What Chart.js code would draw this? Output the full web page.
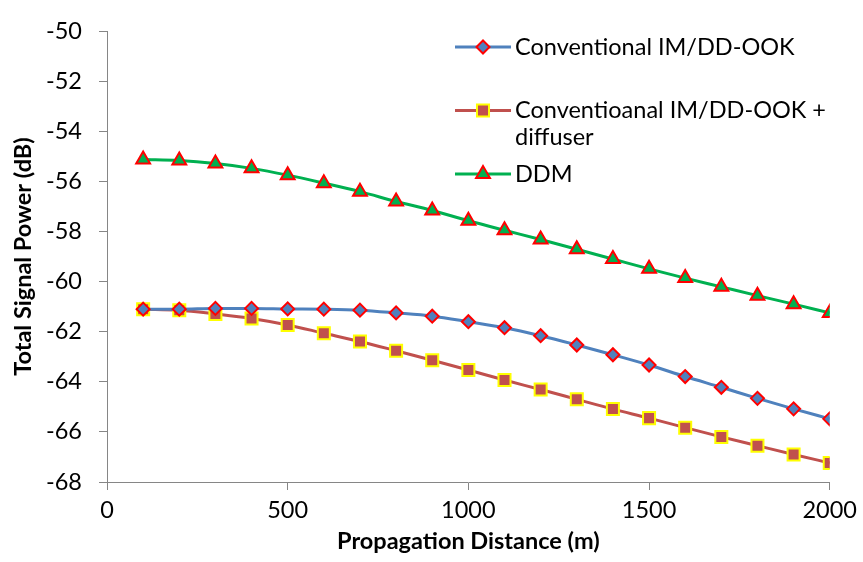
<!DOCTYPE html>
<html>
<head>
<meta charset="utf-8">
<title>Total Signal Power vs Propagation Distance</title>
<script src="https://cdn.jsdelivr.net/npm/chart.js@4.4.1/dist/chart.umd.min.js"></script>
<style>
  html, body { margin: 0; padding: 0; background: #ffffff; }
  #wrap { width: 863px; height: 562px; }
</style>
</head>
<body>
<div id="wrap"><canvas id="chart" width="863" height="562"></canvas></div>
<script>
// Propagation distance (m)
const distances = [100, 200, 300, 400, 500, 600, 700, 800, 900, 1000,
                   1100, 1200, 1300, 1400, 1500, 1600, 1700, 1800, 1900, 2000];

// Total signal power (dB) per scheme
const convOOK = [-61.10, -61.10, -61.07, -61.07, -61.09, -61.10, -61.14, -61.25, -61.38, -61.60,
                 -61.84, -62.16, -62.53, -62.92, -63.33, -63.79, -64.22, -64.66, -65.08, -65.48];
const convOOKDiffuser = [-61.10, -61.14, -61.29, -61.47, -61.73, -62.06, -62.39, -62.76, -63.14, -63.53,
                         -63.93, -64.31, -64.70, -65.09, -65.45, -65.83, -66.20, -66.55, -66.90, -67.24];
const ddm = [-55.13, -55.17, -55.29, -55.48, -55.75, -56.07, -56.41, -56.80, -57.16, -57.57,
             -57.95, -58.32, -58.71, -59.10, -59.49, -59.86, -60.21, -60.56, -60.90, -61.25];

const seriesNames = [
  'Conventional IM/DD-OOK',
  ['Conventioanal IM/DD-OOK +', 'diffuser'],
  'DDM'
];

const xTitle = 'Propagation Distance (m)';
const yTitle = 'Total Signal Power (dB)';

const FONT = 'Lato, "Open Sans", "DejaVu Sans", sans-serif';
const FONT_SIZE = 23.5;
const AXIS_GREY = '#868686';

function toXY(values) {
  return distances.map((d, i) => ({ x: d, y: values[i] }));
}

function makeSeries(label, values, lineColor, fillColor, edgeColor, shape, radius) {
  return {
    label: label,
    data: toXY(values),
    borderColor: lineColor,
    borderWidth: 3,
    backgroundColor: fillColor,
    pointStyle: shape,
    pointRadius: radius,
    pointHoverRadius: radius,
    pointBackgroundColor: fillColor,
    pointBorderColor: edgeColor,
    pointBorderWidth: 2,
    cubicInterpolationMode: 'monotone',
    fill: false
  };
}

// Legend drawn inside the plot area, with wrapped labels
const insideLegend = {
  id: 'insideLegend',
  afterDraw(chart) {
    const ctx = chart.ctx;
    const rows = [47, 110.5, 174];
    const lineX0 = 455, lineX1 = 511, textX = 515, lineH = 27;
    ctx.save();
    chart.data.datasets.forEach((ds, i) => {
      const y = rows[i];
      ctx.strokeStyle = ds.borderColor;
      ctx.lineWidth = 3;
      ctx.beginPath();
      ctx.moveTo(lineX0, y);
      ctx.lineTo(lineX1, y);
      ctx.stroke();
      ctx.fillStyle = ds.pointBackgroundColor;
      ctx.strokeStyle = ds.pointBorderColor;
      ctx.lineWidth = ds.pointBorderWidth;
      Chart.helpers.drawPoint(ctx, {
        pointStyle: ds.pointStyle,
        radius: ds.pointRadius,
        rotation: 0,
        borderWidth: ds.pointBorderWidth
      }, (lineX0 + lineX1) / 2, y);
      ctx.fillStyle = '#000000';
      ctx.font = FONT_SIZE + 'px ' + FONT;
      ctx.textAlign = 'left';
      ctx.textBaseline = 'middle';
      const lines = Array.isArray(ds.label) ? ds.label : [ds.label];
      lines.forEach((t, k) => ctx.fillText(t, textX, y + k * lineH));
    });
    ctx.restore();
  }
};

const chart = new Chart(document.getElementById('chart'), {
  type: 'line',
  data: {
    datasets: [
      makeSeries(seriesNames[0], convOOK, '#4F81BD', '#4F81BD', '#FF0000', 'rectRot', 6.5),
      makeSeries(seriesNames[1], convOOKDiffuser, '#C0504D', '#C0504D', '#FFFF00', 'rect', 8.5),
      makeSeries(seriesNames[2], ddm, '#00B050', '#00B050', '#FF0000', 'triangle', 8)
    ]
  },
  options: {
    responsive: false,
    animation: false,
    devicePixelRatio: 1,
    layout: { padding: { top: 22, right: 31, left: 0, bottom: 0 } },
    plugins: {
      legend: { display: false },
      tooltip: { enabled: false }
    },
    scales: {
      x: {
        type: 'linear',
        min: 0,
        max: 2000,
        afterFit(scale) { scale.height = 80; },
        border: { display: true, color: AXIS_GREY, width: 1 },
        grid: { drawOnChartArea: false, drawTicks: true, tickLength: 8, color: AXIS_GREY },
        ticks: {
          stepSize: 500,
          color: '#000000',
          padding: 6,
          maxRotation: 0,
          callback: (v) => String(v),
          font: { family: FONT, size: FONT_SIZE }
        },
        title: {
          display: true,
          text: xTitle,
          color: '#000000',
          font: { family: FONT, size: FONT_SIZE, weight: 'bold' },
          padding: { top: 0, bottom: 6 }
        }
      },
      y: {
        type: 'linear',
        min: -68,
        max: -50,
        afterFit(scale) { scale.width = 107; },
        border: { display: true, color: AXIS_GREY, width: 1 },
        grid: { drawOnChartArea: false, drawTicks: true, tickLength: 8, color: AXIS_GREY },
        ticks: {
          stepSize: 2,
          color: '#000000',
          padding: 17,
          font: { family: FONT, size: FONT_SIZE }
        },
        title: {
          display: true,
          text: yTitle,
          color: '#000000',
          font: { family: FONT, size: FONT_SIZE, weight: 'bold' },
          padding: { top: 9, bottom: 0 }
        }
      }
    }
  },
  plugins: [insideLegend]
});
</script>
</body>
</html>
